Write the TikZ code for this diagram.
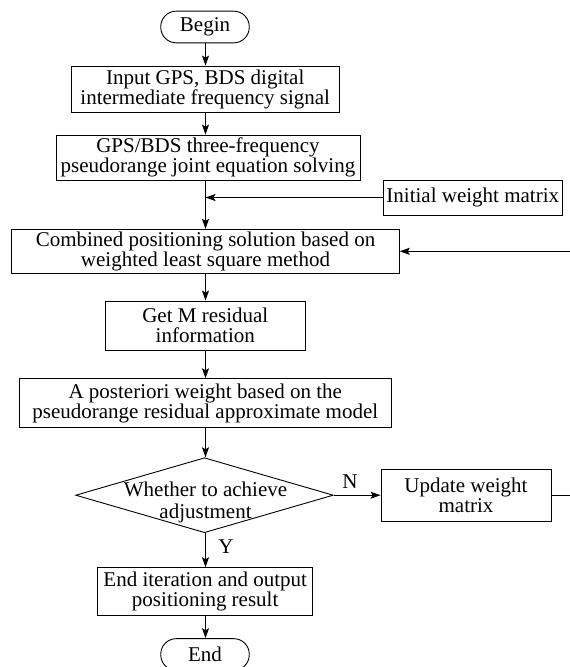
\documentclass[tikz,border=0pt]{standalone}
\usepackage{fontspec}
\setmainfont{Liberation Serif}
\usetikzlibrary{arrows.meta,shapes.geometric}
\newcommand{\txtfont}{\fontsize{21}{19.8}\selectfont}
\begin{document}
\begin{tikzpicture}[x=1pt,y=-1pt,
  box/.style={draw, line width=0.9pt, inner sep=0pt, align=center, font=\txtfont},
  term/.style={box, rounded corners=15.5pt},
  arr/.style={line width=0.9pt, -{Stealth[length=10pt,width=7pt,inset=2pt]}},
  lbl/.style={font=\txtfont, inner sep=0pt, anchor=base}]
\useasboundingbox (0,0) rectangle (570,667);
\coordinate (axis) at (205.5,0);
\coordinate (fb) at (571,0);

\node[term, minimum width=88.5pt, minimum height=31.7pt] (begin) at (205,27) {Begin};
\node[box, minimum width=268.3pt, minimum height=46.3pt] (input) at (205.2,89.2) {Input GPS, BDS digital\\intermediate frequency signal};
\node[box, minimum width=304pt, minimum height=45.3pt] (gps) at (208,157.7) {GPS/BDS three-frequency\\pseudorange joint equation solving};
\node[box, minimum width=179pt, minimum height=35pt] (init) at (472.8,197.5) {Initial weight matrix};
\node[box, minimum width=387.6pt, minimum height=44pt] (comb) at (205.5,251.3) {Combined positioning solution based on\\weighted least square method};
\node[box, minimum width=200.7pt, minimum height=49pt] (getm) at (205.3,325.5) {Get M residual\\information};
\node[box, minimum width=372.7pt, minimum height=49pt] (apost) at (205.3,403.2) {A posteriori weight based on the\\pseudorange residual approximate model};
\node[draw, diamond, line width=0.9pt, inner sep=0pt, minimum width=257.6pt, minimum height=75pt] (dia) at (204.5,495.2) {};
\node[lbl] (dt1) at (205.5,496.7) {Whether to achieve};
\node[lbl] (dt2) at (205.5,518.3) {adjustment};
\node[box, minimum width=170pt, minimum height=52pt] (update) at (466,495) {Update weight\\matrix};
\node[box, minimum width=215pt, minimum height=47.6pt] (endit) at (205.2,591.5) {End iteration and output\\positioning result};
\node[term, minimum width=88.5pt, minimum height=31.7pt] (end) at (205,654.5) {End};
\node[lbl] (nlab) at (350,488) {N};
\node[lbl] (ylab) at (226,553) {Y};

\draw[arr] (begin.south -| axis) -- (input.north -| axis);
\draw[arr] (input.south -| axis) -- (gps.north -| axis);
\draw[arr] (gps.south -| axis) -- (comb.north -| axis);
\draw[arr] (init.west) -- (init.west -| axis);
\draw[arr] (comb.south -| axis) -- (getm.north -| axis);
\draw[arr] (getm.south -| axis) -- (apost.north -| axis);
\draw[arr] (apost.south -| axis) -- (dia.north -| axis);
\draw[arr] (dia.east) -- (dia.east -| update.west);
\draw[arr] (update.east) -- (update.east -| fb) -- (comb.east -| fb) -- (comb.east);
\draw[arr] (dia.south -| axis) -- (endit.north -| axis);
\draw[arr] (endit.south -| axis) -- (end.north -| axis);
\end{tikzpicture}
\end{document}
